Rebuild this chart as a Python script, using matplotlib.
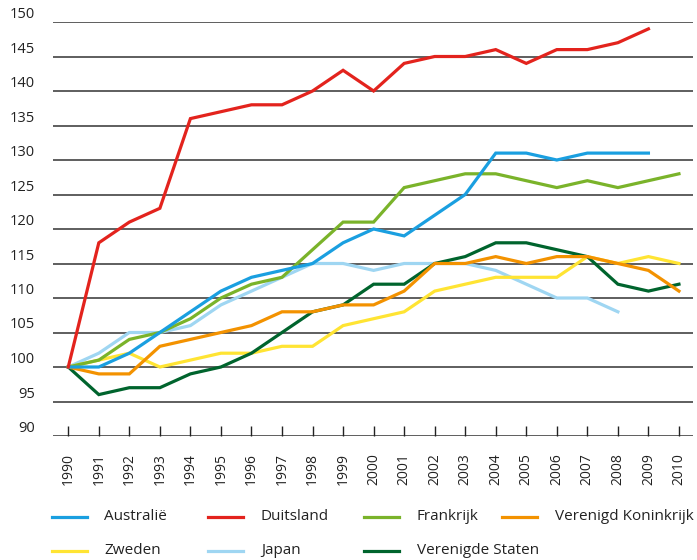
import matplotlib
matplotlib.use("Agg")
import matplotlib.pyplot as plt
from matplotlib.lines import Line2D

years = list(range(1990, 2011))

duitsland = [100, 118, 121, 123, 136, 137, 138, 138, 140, 143, 140, 144, 145, 145, 146, 144, 146, 146, 147, 149]
australie = [100, 100, 102, 105, 108, 111, 113, 114, 115, 118, 120, 119, 122, 125, 131, 131, 130, 131, 131, 131]
frankrijk = [100, 101, 104, 105, 107, 110, 112, 113, 117, 121, 121, 126, 127, 128, 128, 127, 126, 127, 126, 127, 128]
vk = [100, 99, 99, 103, 104, 105, 106, 108, 108, 109, 109, 111, 115, 115, 116, 115, 116, 116, 115, 114, 111]
zweden = [100, 101, 102, 100, 101, 102, 102, 103, 103, 106, 107, 108, 111, 112, 113, 113, 113, 116, 115, 116, 115]
japan = [100, 102, 105, 105, 106, 109, 111, 113, 115, 115, 114, 115, 115, 115, 114, 112, 110, 110, 108]
vs = [100, 96, 97, 97, 99, 100, 102, 105, 108, 109, 112, 112, 115, 116, 118, 118, 117, 116, 112, 111, 112]

yticks = list(range(90, 151, 5))

series = [
    ("Australië", australie, "#1a9fe0"),
    ("Duitsland", duitsland, "#e3231d"),
    ("Frankrijk", frankrijk, "#7ab32a"),
    ("Verenigd Koninkrijk", vk, "#f39200"),
    ("Zweden", zweden, "#ffe433"),
    ("Japan", japan, "#9fd6f2"),
    ("Verenigde Staten", vs, "#00642d"),
]

plt.rcParams['font.family'] = ['Open Sans', 'DejaVu Sans']

fig = plt.figure(figsize=(6.97, 5.6), dpi=100)
ax = fig.add_axes([53/697, 1-436/560, (693-53)/697, (436-22)/560])

for y in yticks:
    ax.axhline(y, color="#333333", lw=1.1, zorder=1)

draw_order = ["Japan", "Zweden", "Verenigde Staten", "Verenigd Koninkrijk", "Frankrijk", "Australië", "Duitsland"]
lookup = {n: (v, c) for n, v, c in series}
for i, name in enumerate(draw_order):
    v, c = lookup[name]
    ax.plot(years[:len(v)], v, color=c, lw=2.3, zorder=3 + i, solid_joinstyle='miter')

ax.set_xlim(1989.5, 2010.46)
ax.set_ylim(90, 150)
ax.set_yticks(yticks)
ax.set_yticklabels([str(t) for t in yticks], fontsize=10.5, color="#222222", va='bottom')
ax.tick_params(axis='y', length=0, pad=13)
ax.set_xticks(years)
ax.set_xticklabels([str(y) for y in years], rotation=90, fontsize=10, color="#222222", va='top')
ax.tick_params(axis='x', direction='in', length=7, width=1, color="#222222", pad=12)
for s in ax.spines.values():
    s.set_visible(False)

# adjust x label pad so that label tops sit ~453 px from the top of the figure
fig.canvas.draw()
renderer = fig.canvas.get_renderer()
bb = ax.get_xticklabels()[0].get_window_extent(renderer)
top_from_top = 560 - bb.y1
shift_px = 453 - top_from_top
ax.tick_params(axis='x', pad=12 + shift_px * 72 / 100)

# legend (row-wise, as in the reference)
row1 = [("Australië", 52, 104), ("Duitsland", 208, 261), ("Frankrijk", 364, 417), ("Verenigd Koninkrijk", 502, 555)]
row2 = [("Zweden", 52, 104), ("Japan", 208, 261), ("Verenigde Staten", 364, 417)]
for row, ypx in ((row1, 517), (row2, 551)):
    for name, hx, tx in row:
        _, c = lookup[name]
        yf = 1 - ypx / 560
        fig.add_artist(Line2D([hx/697, (hx+35)/697], [yf, yf], color=c, lw=2.3, transform=fig.transFigure))
        fig.text(tx/697, yf, name, fontsize=11, color="#222222", va='center', ha='left')

fig.savefig("out.png", dpi=100)
